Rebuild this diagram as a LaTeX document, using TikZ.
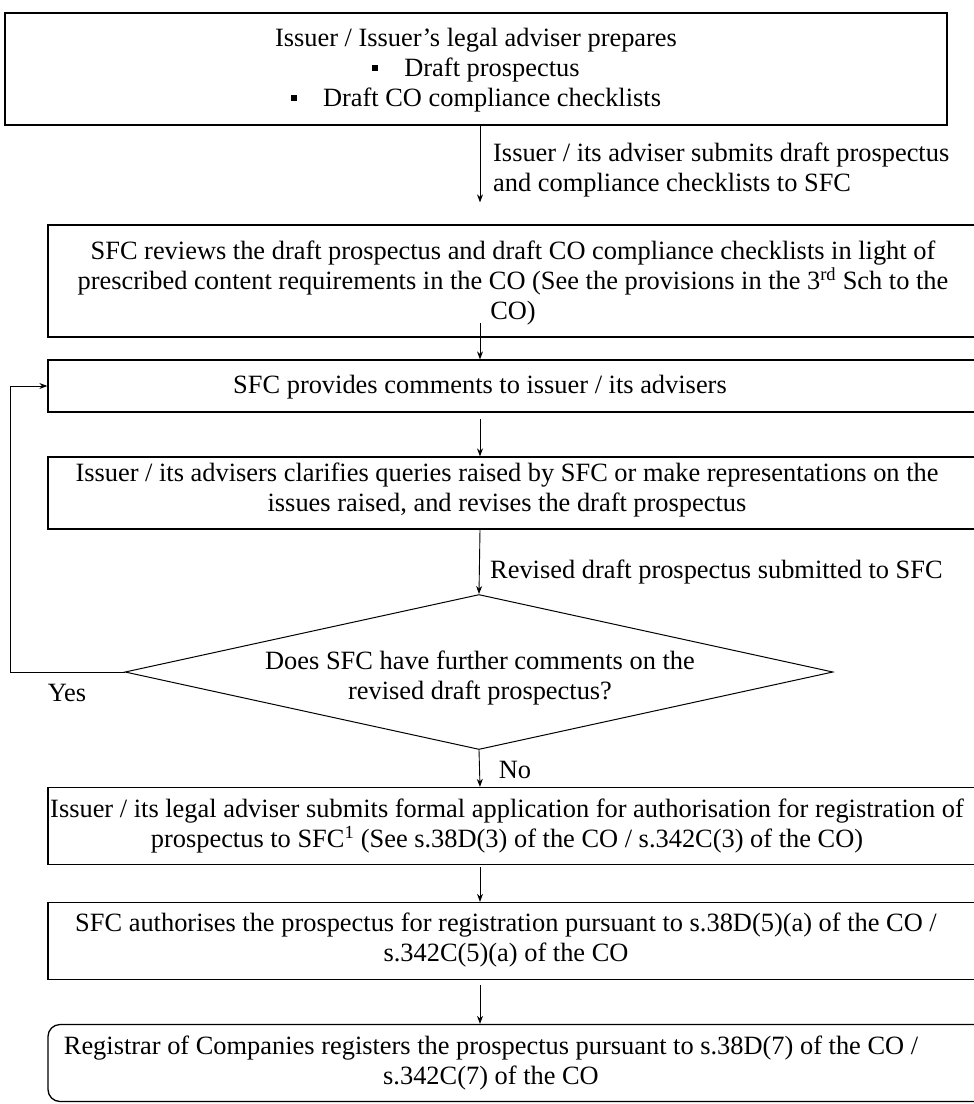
\documentclass[tikz,border=0pt]{standalone}
\usepackage{fontspec}
\setmainfont{Liberation Serif}
\usetikzlibrary{shapes.geometric, arrows.meta}

\newcommand{\boxnode}{\node[rectangle, draw, line width=1.3pt, inner sep=0pt]}
\newcommand{\txtnode}{\node[align=center, inner sep=0pt, font=\fontsize{26.4}{30}\selectfont]}
\newcommand{\lbnode}{\node[align=left, anchor=west, inner sep=0pt, font=\fontsize{26.4}{30}\selectfont]}
\newcommand{\bul}{\raisebox{5pt}{\rule{6pt}{6pt}}\hspace{26pt}}
\tikzset{flow/.style={-{Stealth[length=8pt,width=6pt]}, line width=0.9pt}}

\begin{document}
\begin{tikzpicture}[x=1pt, y=-1pt]
    \useasboundingbox (0,0) rectangle (974,1104);
    \clip (0,0) rectangle (974,1104);

    % boxes
    \boxnode[minimum width=942pt, minimum height=112pt, line width=1.6pt] (b1) at (476,69) {};
    \boxnode[minimum width=952pt, minimum height=112pt] (b2) at (524,281) {};
    \boxnode[minimum width=952pt, minimum height=52pt] (b3) at (524,386) {};
    \boxnode[minimum width=952pt, minimum height=72pt] (b4) at (524,493) {};
    \node[diamond, draw, line width=1pt, inner sep=0pt, minimum width=708pt, minimum height=155pt] (dec) at (479,672) {};
    \boxnode[minimum width=952pt, minimum height=77pt] (b5) at (524,826) {};
    \boxnode[minimum width=952pt, minimum height=77pt] (b6) at (524,941) {};
    \boxnode[minimum width=952pt, minimum height=77pt, rounded corners=12pt] (b7) at (524,1063) {};

    % texts
    \txtnode (t1) at (476,70) {Issuer / Issuer's legal adviser prepares\\ \bul Draft prospectus\\ \bul Draft CO compliance checklists};
    \txtnode (t2) at (513,283) {SFC reviews the draft prospectus and draft CO compliance checklists in light of\\prescribed content requirements in the CO (See the provisions in the 3\textsuperscript{rd} Sch to the\\CO)};
    \txtnode (t3) at (480,387) {SFC provides comments to issuer / its advisers};
    \txtnode (t4) at (507,490) {Issuer / its advisers clarifies queries raised by SFC or make representations on the\\issues raised, and revises the draft prospectus};
    \txtnode (td) at (480,678) {Does SFC have further comments on the\\revised draft prospectus?};
    \txtnode (t5) at (507,826) {Issuer / its legal adviser submits formal application for authorisation for registration of\\prospectus to SFC\textsuperscript{1} (See s.38D(3) of the CO / s.342C(3) of the CO)};
    \txtnode (t6) at (506,940) {SFC authorises the prospectus for registration pursuant to s.38D(5)(a) of the CO /\\s.342C(5)(a) of the CO};
    \txtnode (t7) at (491,1063) {Registrar of Companies registers the prospectus pursuant to s.38D(7) of the CO /\\s.342C(7) of the CO};

    \lbnode (l1) at (493,170) {Issuer / its adviser submits draft prospectus\\and compliance checklists to SFC};
    \lbnode (l2) at (490,572) {Revised draft prospectus submitted to SFC};
    \txtnode (yes) at (67,693) {Yes};
    \txtnode (no) at (515,770) {No};

    \coordinate (col) at (480,0);
    \coordinate (back) at (10,672);

    \draw[flow, shorten >=22pt] (b1.south -| col) -- (b2.north -| col);
    \draw[flow, shorten <=-15pt] (b2.south -| col) -- (b3.north -| col);
    \draw[flow, shorten <=6pt] (b3.south -| col) -- (b4.north -| col);
    \draw[flow] (b4.south -| col) -- (dec.north);
    \draw[flow] (dec.south) -- (b5.north -| col);
    \draw[flow, shorten <=2pt] (b5.south -| col) -- (b6.north -| col);
    \draw[flow, shorten <=5pt] (b6.south -| col) -- (b7.north -| col);
    \draw[flow] (dec.west) -- (back) |- (b3.west);
\end{tikzpicture}
\end{document}
